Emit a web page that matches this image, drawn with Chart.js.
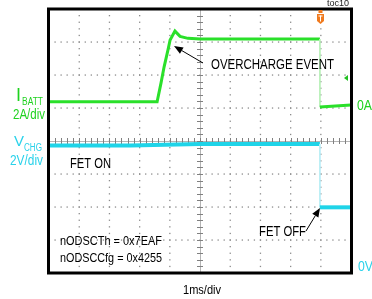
<!DOCTYPE html>
<html>
<head>
<meta charset="utf-8">
<script src="https://cdn.jsdelivr.net/npm/chart.js@4"></script>
<style>
  body { margin: 0; background: #fff; }
  canvas { display: block; }
</style>
</head>
<body>
<canvas id="scope" width="372" height="299"></canvas>
<script>
// time in ms (1ms/div, 10 divisions)
const ibattTime = [0, 1.5, 3.58, 3.71, 3.81, 3.94, 4.01, 4.17, 4.34, 4.6, 5.0, 8.97, 8.97, 10];
const ibattAmps = [0.2, 0.2, 0.2, 1.34, 2.3, 3.34, 3.94, 4.48, 4.16, 4.04, 4.0, 4.0, -0.12, 0.0];

const vchgTime = [0, 2.7, 5.0, 8.97, 8.97, 10];
const vchgVolts = [7.36, 7.36, 7.46, 7.46, 3.62, 3.62];

const green = "#2ae02a";
const greenText = "#1fd21f";
const cyan = "#1fd4e8";
const cyanText = "#2ad2ea";

function toPoints(xs, ys) {
    return xs.map((x, i) => ({ x: x, y: ys[i] }));
}

// vertical jumps are drawn thin and pale like the scope
function jumpSegment(normalColor, paleColor, w) {
    return {
        borderWidth: c => c.p0.parsed.x === c.p1.parsed.x ? 1 : w,
        borderColor: c => c.p0.parsed.x === c.p1.parsed.x ? paleColor : normalColor
    };
}

const gridPlugin = {
    id: "scopeGrid",
    beforeDatasetsDraw(chart) {
        const { ctx, chartArea: a, scales: { x, y } } = chart;
        ctx.save();
        ctx.fillStyle = "#8c8c8c";
        // dotted division lines
        for (let k = 1; k < 10; k++) {
            if (k === 5) continue;
            const px = x.getPixelForValue(k);
            for (let m = 1; m < 40; m++) {
                const py = y.getPixelForValue(m / 5);
                ctx.fillRect(px - 0.6, py - 0.6, 1.3, 1.3);
            }
        }
        for (let j = 1; j < 8; j++) {
            if (j === 4) continue;
            const py = y.getPixelForValue(j);
            for (let m = 1; m < 50; m++) {
                const px = x.getPixelForValue(m / 5);
                ctx.fillRect(px - 0.6, py - 0.6, 1.3, 1.3);
            }
        }
        // center axes with minor ticks
        const cx = x.getPixelForValue(5);
        const cy = y.getPixelForValue(4);
        ctx.strokeStyle = "#b4b4b4";
        ctx.lineWidth = 1;
        ctx.beginPath();
        ctx.moveTo(a.left, cy + 0.5);
        ctx.lineTo(a.right, cy + 0.5);
        ctx.moveTo(cx + 0.5, a.top);
        ctx.lineTo(cx + 0.5, a.bottom);
        ctx.stroke();
        ctx.strokeStyle = "#808080";
        ctx.beginPath();
        for (let m = 1; m < 50; m++) {
            const px = Math.round(x.getPixelForValue(m / 5)) + 0.5;
            ctx.moveTo(px, cy - 3);
            ctx.lineTo(px, cy + 3);
        }
        for (let m = 1; m < 40; m++) {
            const py = Math.round(y.getPixelForValue(m / 5)) + 0.5;
            ctx.moveTo(cx - 3, py);
            ctx.lineTo(cx + 3, py);
        }
        ctx.stroke();
        ctx.restore();
    }
};

function label(ctx, str, x, y, font, color, maxW, align) {
    ctx.font = font;
    ctx.fillStyle = color;
    ctx.textAlign = align || "left";
    ctx.textBaseline = "middle";
    if (maxW) ctx.fillText(str, x, y, maxW);
    else ctx.fillText(str, x, y);
}

function arrow(ctx, x1, y1, x2, y2) {
    const ang = Math.atan2(y2 - y1, x2 - x1);
    const len = 9, half = 3.6;
    const bx = x2 - len * Math.cos(ang), by = y2 - len * Math.sin(ang);
    ctx.strokeStyle = "#000";
    ctx.lineWidth = 1;
    ctx.beginPath();
    ctx.moveTo(x1, y1);
    ctx.lineTo(bx, by);
    ctx.stroke();
    ctx.fillStyle = "#000";
    ctx.beginPath();
    ctx.moveTo(x2, y2);
    ctx.lineTo(bx + half * Math.sin(ang), by - half * Math.cos(ang));
    ctx.lineTo(bx - half * Math.sin(ang), by + half * Math.cos(ang));
    ctx.closePath();
    ctx.fill();
}

const overlayPlugin = {
    id: "scopeOverlay",
    afterDraw(chart) {
        const { ctx, chartArea: a } = chart;
        ctx.save();
        // frame
        ctx.strokeStyle = "#000";
        ctx.lineWidth = 3;
        ctx.strokeRect(a.left - 0.5, a.top, a.right - a.left + 1, a.bottom - a.top);

        const f = "Liberation Sans, Arial, sans-serif";
        label(ctx, "toc10", 349, 4, "9px " + f, "#222", 23, "right");

        // channel labels
        label(ctx, "I", 16, 96, "18px " + f, greenText);
        label(ctx, "BATT", 22, 102, "10px " + f, greenText, 21);
        label(ctx, "2A/div", 13, 115, "14px " + f, greenText, 32);
        label(ctx, "V", 14, 142, "15px " + f, cyanText, 11);
        label(ctx, "CHG", 24, 148, "10px " + f, cyanText, 18);
        label(ctx, "2V/div", 10, 161, "14px " + f, cyanText, 33);
        label(ctx, "0A", 357, 106, "14px " + f, greenText, 15);
        label(ctx, "0V", 358, 267, "14px " + f, cyanText, 15);

        // annotations
        label(ctx, "OVERCHARGE EVENT", 211, 65, "14px " + f, "#000", 123);
        arrow(ctx, 203, 63, 174, 46);
        label(ctx, "FET ON", 70, 164, "14px " + f, "#000", 41);
        label(ctx, "FET OFF", 259, 232, "14px " + f, "#000", 47);
        arrow(ctx, 306, 231, 320, 208);
        label(ctx, "nODSCTh = 0x7EAF", 60, 241, "13px " + f, "#000", 102);
        label(ctx, "nODSCCfg = 0x4255", 60, 258, "13px " + f, "#000", 102);
        label(ctx, "1ms/div", 183, 290, "13px " + f, "#000", 38);

        // trigger marker
        ctx.fillStyle = "#f07a1e";
        ctx.fillRect(318.5, 10, 4, 3);
        ctx.beginPath();
        ctx.moveTo(317, 14);
        ctx.lineTo(324, 14);
        ctx.lineTo(324, 21);
        ctx.lineTo(320.5, 24);
        ctx.lineTo(317, 21);
        ctx.closePath();
        ctx.fill();
        ctx.fillStyle = "#fff";
        ctx.fillRect(318.5, 15.5, 4, 1);
        ctx.fillRect(320, 15.5, 1, 6);

        // channel 1 level marker
        ctx.fillStyle = "#22c022";
        ctx.beginPath();
        ctx.moveTo(344, 78);
        ctx.lineTo(348, 75);
        ctx.lineTo(348, 81);
        ctx.closePath();
        ctx.fill();
        ctx.restore();
    }
};

new Chart(document.getElementById("scope").getContext("2d"), {
    type: "scatter",
    data: {
        datasets: [
            {
                label: "IBATT",
                data: toPoints(ibattTime, ibattAmps),
                yAxisID: "yI",
                showLine: true,
                pointRadius: 0,
                borderColor: green,
                borderWidth: 3,
                segment: jumpSegment(green, "#b8f0b8", 3)
            },
            {
                label: "VCHG",
                data: toPoints(vchgTime, vchgVolts),
                yAxisID: "yV",
                showLine: true,
                pointRadius: 0,
                borderColor: cyan,
                borderWidth: 4,
                segment: jumpSegment(cyan, "#b8eef6", 4)
            }
        ]
    },
    options: {
        responsive: false,
        animation: false,
        layout: { padding: { left: 49, top: 9, right: 21, bottom: 26 } },
        plugins: { legend: { display: false }, tooltip: { enabled: false } },
        scales: {
            x: { type: "linear", min: 0, max: 10, display: false },
            y: { min: 0, max: 8, display: false },
            yI: { min: -10.18, max: 5.82, display: false },
            yV: { min: -0.36, max: 15.64, display: false }
        }
    },
    plugins: [gridPlugin, overlayPlugin]
});
</script>
</body>
</html>
